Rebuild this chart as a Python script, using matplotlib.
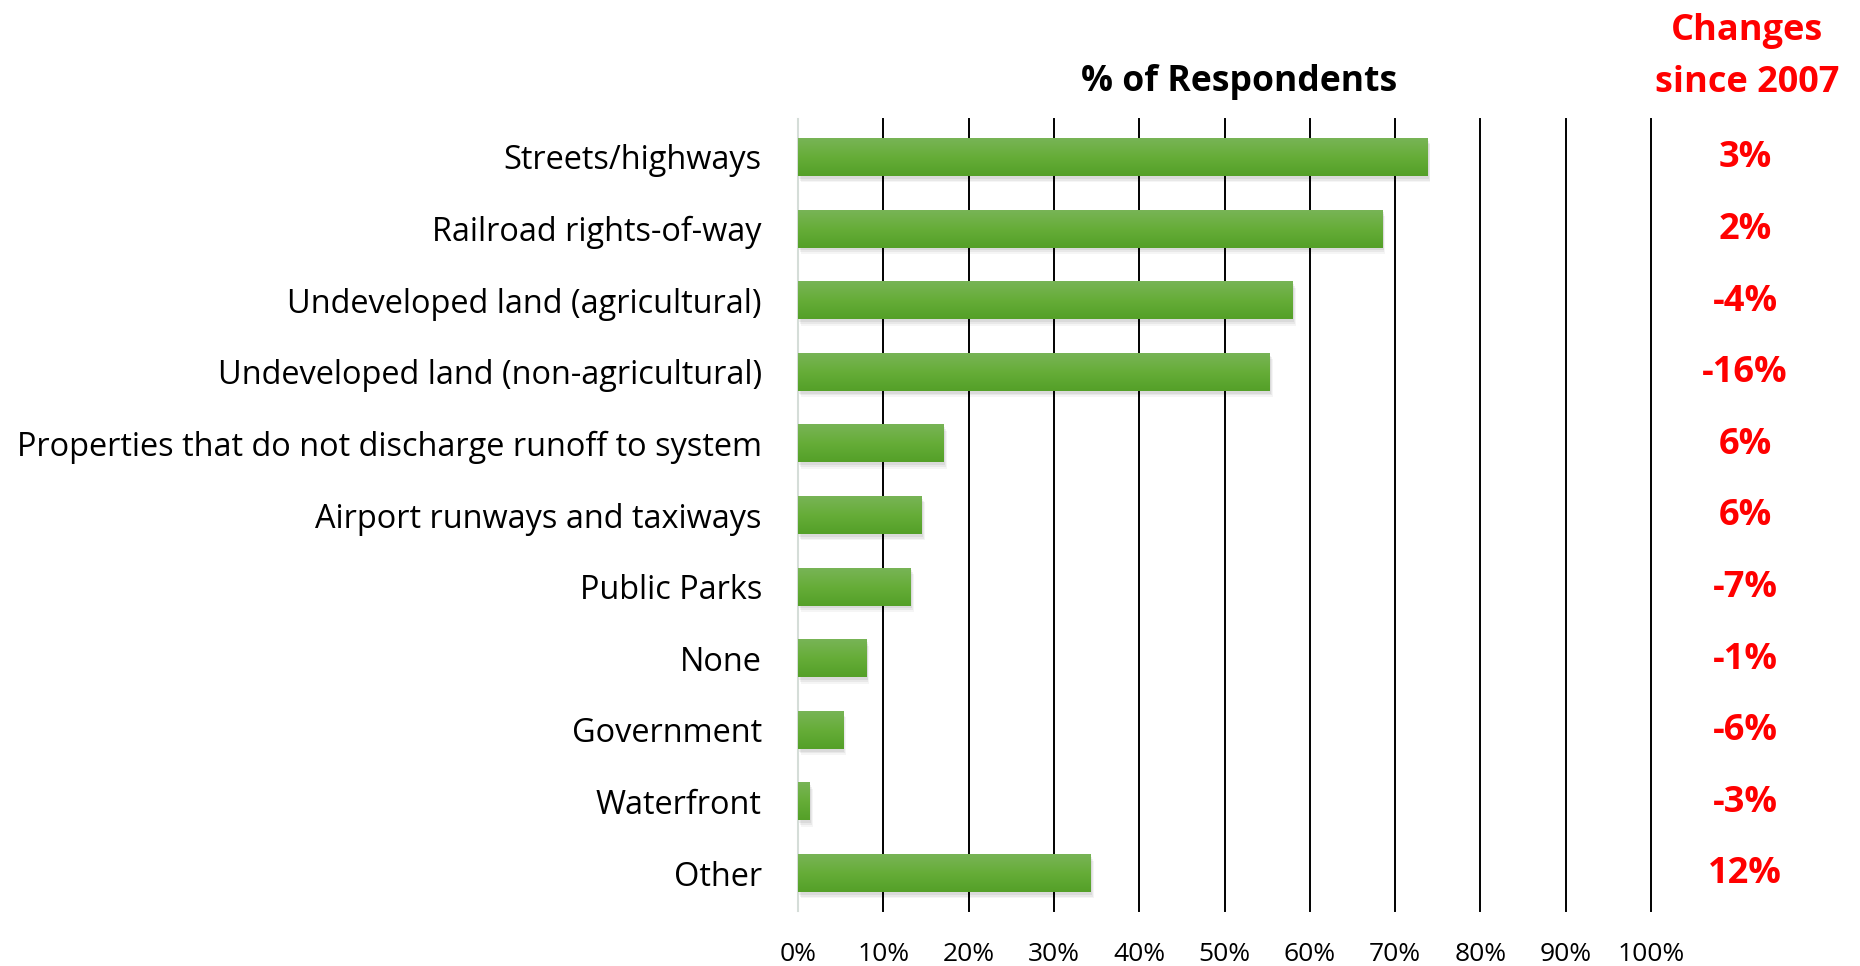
import matplotlib
matplotlib.use("Agg")
import matplotlib.pyplot as plt
import matplotlib.transforms as mtransforms
import numpy as np
from matplotlib.colors import LinearSegmentedColormap

categories = [
    "Streets/highways",
    "Railroad rights-of-way",
    "Undeveloped land (agricultural)",
    "Undeveloped land (non-agricultural)",
    "Properties that do not discharge runoff to system",
    "Airport runways and taxiways",
    "Public Parks",
    "None",
    "Government",
    "Waterfront",
    "Other",
]
values = [73.8, 68.5, 58.0, 55.3, 17.1, 14.5, 13.2, 8.0, 5.3, 1.4, 34.3]
changes = ["3%", "2%", "-4%", "-16%", "6%", "6%", "-7%", "-1%", "-6%", "-3%", "12%"]
xticks = [0, 10, 20, 30, 40, 50, 60, 70, 80, 90, 100]
xtick_labels = [f"{t}%" for t in xticks]

plt.rcParams["font.family"] = ["Open Sans", "DejaVu Sans"]

W, H = 1860, 966
fig = plt.figure(figsize=(W / 100, H / 100), dpi=100)
ax = fig.add_axes([798 / W, 1 - 911 / H, (1651 - 798) / W, (911 - 119) / H])

y = np.arange(len(categories))
bar_h = 0.53
bars = ax.barh(y, values, height=bar_h, color="#63a936", zorder=3,
               edgecolor="none")

# gradient fill + soft shadow
grad = np.linspace(0, 1, 64).reshape(-1, 1)
cmap = LinearSegmentedColormap.from_list("g", ["#78b456", "#66ad38", "#54a028"])
for b in bars:
    x0, y0 = b.get_x(), b.get_y()
    w, h = b.get_width(), b.get_height()
    for k, a in enumerate([0.06, 0.05, 0.04]):
        shadow = plt.Rectangle((x0 + 0.15 + 0.1 * k, y0 + 0.04 + 0.025 * k), w, h,
                               facecolor="#000000", alpha=a, zorder=2,
                               edgecolor="none")
        ax.add_patch(shadow)
    im = ax.imshow(grad, cmap=cmap, aspect="auto",
                   extent=(x0, x0 + w, y0 + h, y0), zorder=3.5)
    im.set_clip_path(b)

ax.set_xlim(0, 100)
ax.set_ylim(len(categories) - 0.5 + 0.03, -0.5 - 0.03)

ax.set_xticks(xticks)
ax.set_xticklabels(xtick_labels, fontsize=19)
ax.set_yticks(y)
ax.set_yticklabels(categories, fontsize=23.4)
ax.tick_params(axis="y", length=0, pad=26)
ax.tick_params(axis="x", length=0, pad=22)

for t in xticks:
    ax.axvline(t, color="black", linewidth=1.4, zorder=0, clip_on=False)
for s in ["top", "right", "bottom"]:
    ax.spines[s].set_visible(False)
ax.spines["left"].set_color("#d5ddd8")
ax.spines["left"].set_linewidth(1.5)
ax.spines["left"].set_zorder(1)

# headers
fig.text(1239 / W, 1 - 82.5 / H, "% of Respondents", fontsize=25.6, fontweight="bold",
         ha="center", va="center", color="black")
fig.text(1747 / W, 1 - 31 / H, "Changes", fontsize=26, fontweight="bold",
         ha="center", va="center", color="red")
fig.text(1747 / W, 1 - 82.5 / H, "since 2007", fontsize=26, fontweight="bold",
         ha="center", va="center", color="red")

trans = mtransforms.blended_transform_factory(fig.transFigure, ax.transData)
for yi, c in zip(y, changes):
    ax.text(1745 / W, yi + 0.02, c, transform=trans, fontsize=26, fontweight="bold",
            ha="center", va="center", color="red")

fig.savefig("out.png", dpi=100, facecolor="white")
